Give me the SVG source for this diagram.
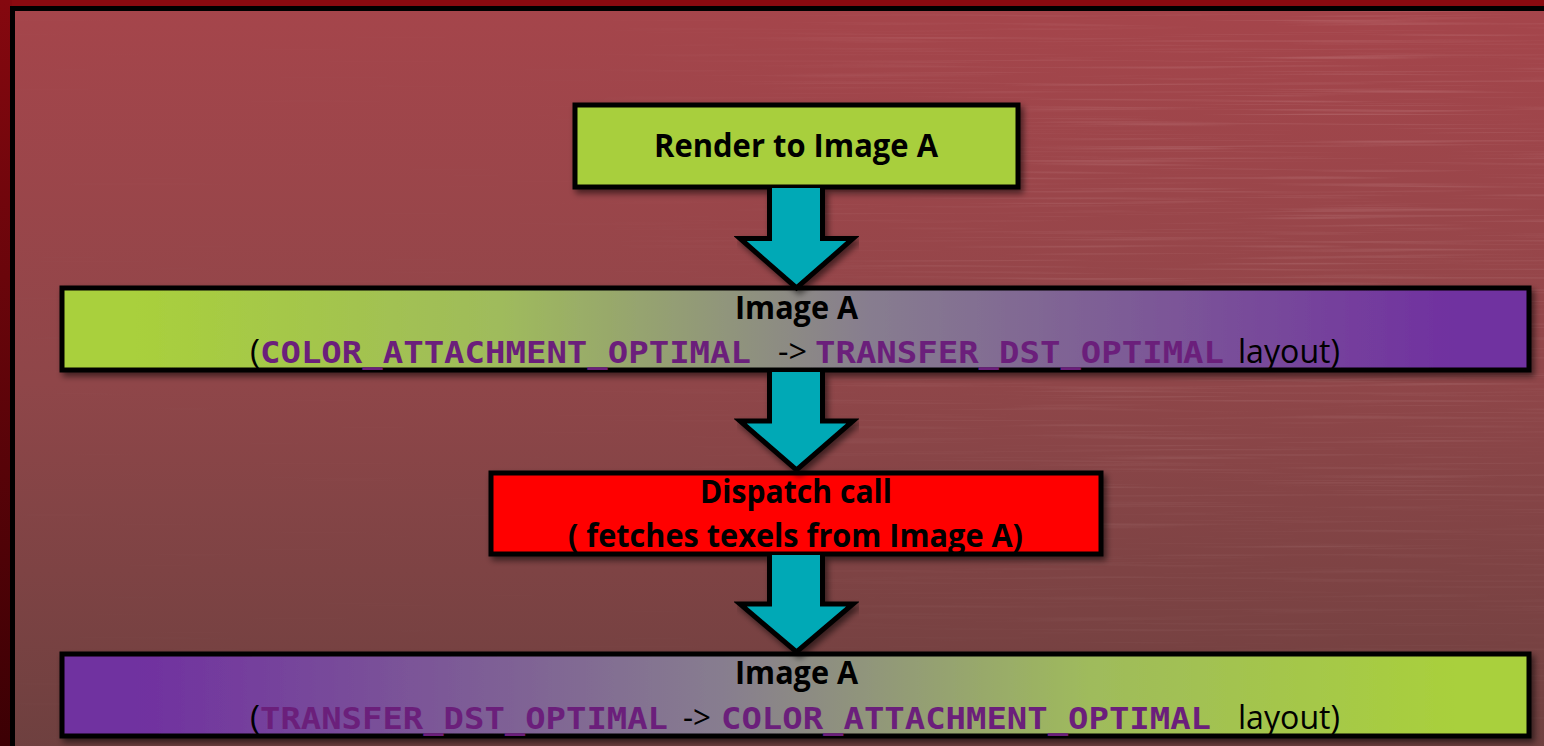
<svg xmlns="http://www.w3.org/2000/svg" width="1544" height="746" viewBox="0 0 1544 746">
  <defs>
    <style>
      .box { stroke: #000; stroke-width: 5; filter: url(#shadow); }
      .arrow { fill: #00a9b6; stroke: #000; stroke-width: 5; stroke-linejoin: miter; stroke-miterlimit: 10; filter: url(#shadow); }
      .title { font-family: "Open Sans", "Noto Sans", sans-serif; font-weight: 700; font-size: 32px; fill: #000; }
      .plain { font-family: "Open Sans", "Noto Sans", sans-serif; font-weight: 400; font-size: 32px; fill: #000; }
      .mono { font-family: "DejaVu Sans Mono", "Liberation Mono", monospace; font-weight: 700; font-size: 31px; fill: #6b1f7b; }
    </style>
    <linearGradient id="bg" x1="0" y1="0" x2="0" y2="1">
      <stop offset="0" stop-color="#a5454b"/>
      <stop offset="0.5" stop-color="#8f4649"/>
      <stop offset="1" stop-color="#6d403f"/>
    </linearGradient>
    <linearGradient id="leftEdge" x1="0" y1="0" x2="0" y2="1">
      <stop offset="0" stop-color="#85080f"/>
      <stop offset="1" stop-color="#3c0004"/>
    </linearGradient>
    <linearGradient id="gToP" gradientUnits="userSpaceOnUse" x1="60" y1="0" x2="1531" y2="0">
      <stop offset="0.05" stop-color="#a9d03c"/>
      <stop offset="0.3" stop-color="#9fbb5c"/>
      <stop offset="0.55" stop-color="#877d8f"/>
      <stop offset="0.95" stop-color="#7030a0"/>
    </linearGradient>
    <linearGradient id="pToG" gradientUnits="userSpaceOnUse" x1="60" y1="0" x2="1531" y2="0">
      <stop offset="0.05" stop-color="#7030a0"/>
      <stop offset="0.45" stop-color="#877d8f"/>
      <stop offset="0.7" stop-color="#9fbb5c"/>
      <stop offset="0.95" stop-color="#a9d03c"/>
    </linearGradient>
    <radialGradient id="streakMaskGrad" cx="1300" cy="150" r="700" gradientUnits="userSpaceOnUse">
      <stop offset="0" stop-color="#fff" stop-opacity="1"/>
      <stop offset="1" stop-color="#fff" stop-opacity="0.05"/>
    </radialGradient>
    <mask id="streakMask">
      <rect x="0" y="0" width="1544" height="746" fill="url(#streakMaskGrad)"/>
    </mask>
    <filter id="brushed" x="0" y="0" width="100%" height="100%">
      <feTurbulence type="fractalNoise" baseFrequency="0.004 0.35" numOctaves="2" seed="7"/>
      <feColorMatrix values="0 0 0 0 1  0 0 0 0 0.8  0 0 0 0 0.8  2.2 0 0 0 -1.15"/>
    </filter>
    <filter id="shadow" x="-5%" y="-20%" width="110%" height="150%">
      <feGaussianBlur in="SourceAlpha" stdDeviation="3"/>
      <feOffset dx="3" dy="4" result="b"/>
      <feComponentTransfer><feFuncA type="linear" slope="0.55"/></feComponentTransfer>
      <feMerge><feMergeNode/><feMergeNode in="SourceGraphic"/></feMerge>
    </filter>
  </defs>

  <!-- background -->
  <rect x="0" y="0" width="1544" height="746" fill="#8a0a10"/>
  <rect x="0" y="0" width="12" height="746" fill="url(#leftEdge)"/>
  <rect x="12" y="8" width="1540" height="750" fill="url(#bg)"/>
  <rect x="12" y="8" width="1540" height="750" fill="#fff" filter="url(#brushed)" opacity="0.22" mask="url(#streakMask)"/>
  <rect x="12.5" y="8.5" width="1540" height="750" fill="none" stroke="#000" stroke-width="5"/>

  <!-- nodes -->
  <g id="node-render">
    <rect class="box" x="575" y="105" width="443" height="82" fill="#a8cf3c"/>
    <text class="title" x="654" y="157" textLength="284" lengthAdjust="spacingAndGlyphs">Render to Image A</text>
  </g>

  <g id="node-imageA-1">
    <rect class="box" x="62" y="288" width="1467" height="82" fill="url(#gToP)"/>
    <text class="title" x="735" y="319" textLength="123" lengthAdjust="spacingAndGlyphs">Image A</text>
    <text class="plain" x="250" y="363" textLength="10" lengthAdjust="spacingAndGlyphs">(</text>
    <text class="mono" x="260" y="363" textLength="491" lengthAdjust="spacingAndGlyphs">COLOR_ATTACHMENT_OPTIMAL</text>
    <text class="plain" x="778" y="363" textLength="29" lengthAdjust="spacingAndGlyphs">-&gt;</text>
    <text class="mono" x="815" y="363" textLength="409" lengthAdjust="spacingAndGlyphs">TRANSFER_DST_OPTIMAL</text>
    <text class="plain" x="1238" y="363" textLength="102" lengthAdjust="spacingAndGlyphs">layout)</text>
  </g>

  <g id="node-dispatch">
    <rect class="box" x="491" y="473" width="610" height="81" fill="#ff0000"/>
    <text class="title" x="700" y="503" textLength="192" lengthAdjust="spacingAndGlyphs">Dispatch call</text>
    <text class="title" x="568" y="547" textLength="455" lengthAdjust="spacingAndGlyphs">( fetches texels from Image A)</text>
  </g>

  <g id="node-imageA-2">
    <rect class="box" x="62" y="654" width="1467" height="82" fill="url(#pToG)"/>
    <text class="title" x="735" y="684" textLength="123" lengthAdjust="spacingAndGlyphs">Image A</text>
    <text class="plain" x="250" y="729" textLength="10" lengthAdjust="spacingAndGlyphs">(</text>
    <text class="mono" x="260" y="729" textLength="408" lengthAdjust="spacingAndGlyphs">TRANSFER_DST_OPTIMAL</text>
    <text class="plain" x="683" y="729" textLength="28" lengthAdjust="spacingAndGlyphs">-&gt;</text>
    <text class="mono" x="721" y="729" textLength="490" lengthAdjust="spacingAndGlyphs">COLOR_ATTACHMENT_OPTIMAL</text>
    <text class="plain" x="1238" y="729" textLength="102" lengthAdjust="spacingAndGlyphs">layout)</text>
  </g>

  <!-- connectors -->
  <g id="connectors">
    <path class="arrow" d="M769.5,188 V238.5 H740 L796.5,288 L853,238.5 H822.5 V188"/>
    <path class="arrow" d="M769.5,372 V421 H740 L796.5,470 L853,421 H822.5 V372"/>
    <path class="arrow" d="M769.5,555 V604 H740 L796.5,652 L853,604 H822.5 V555"/>
  </g>
</svg>
